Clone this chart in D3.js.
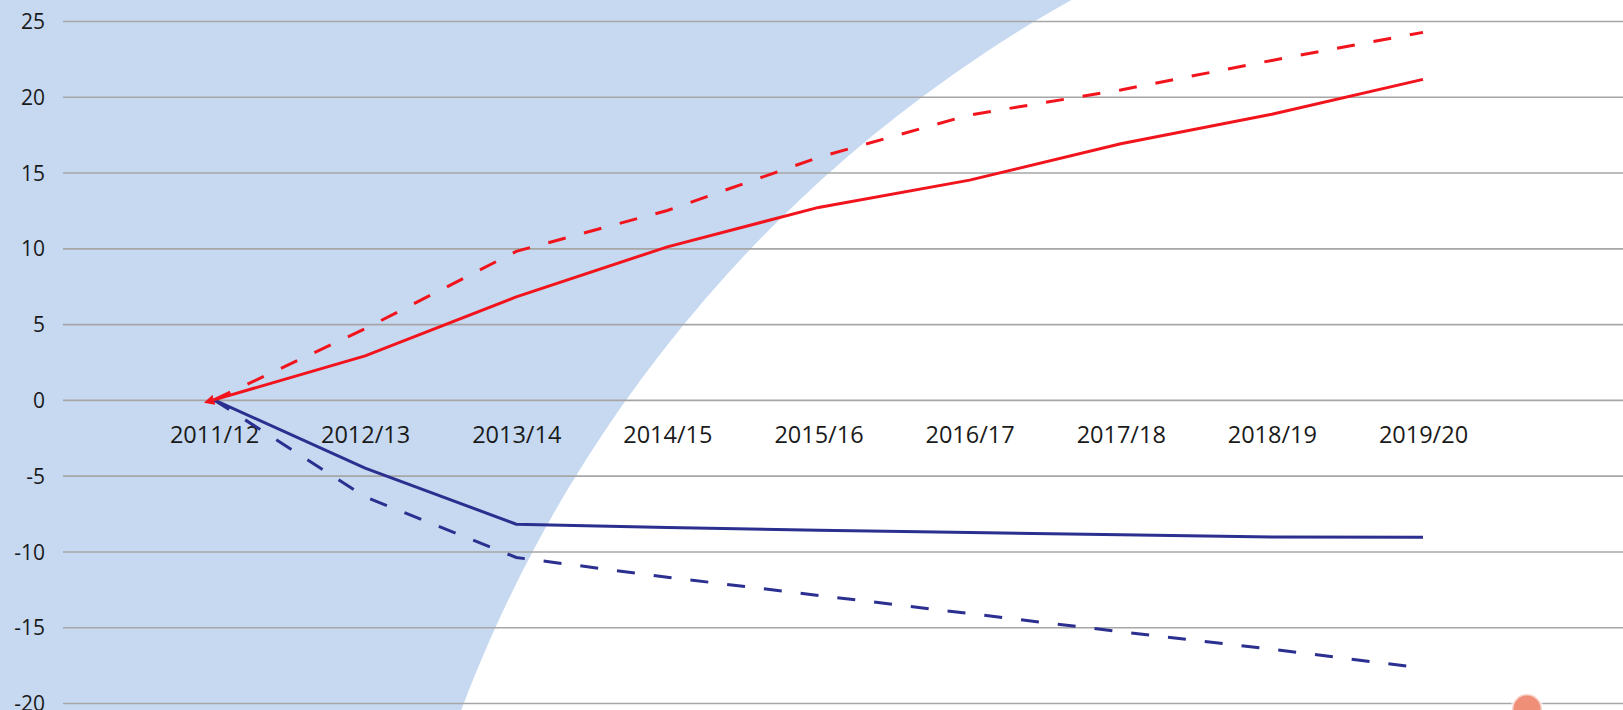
<!DOCTYPE html>
<html>
<head>
<meta charset="utf-8">
<script src="https://cdn.jsdelivr.net/npm/d3@7"></script>
<style>
  body { margin: 0; background: #fff; }
  text { font-family: "Open Sans", sans-serif; fill: #1a1a1a; }
</style>
</head>
<body>
<script>
// categories and series
var years = ["2011/12", "2012/13", "2013/14", "2014/15", "2015/16", "2016/17", "2017/18", "2018/19", "2019/20"];
var redSolid   = [0, 2.9, 6.8, 10.1, 12.7, 14.5, 16.9, 18.85, 21.15];
var redDashed  = [0, 4.7, 9.8, 12.5, 16.0, 18.8, 20.45, 22.4, 24.25];
var blueSolid  = [0, -4.5, -8.2, -8.42, -8.6, -8.75, -8.9, -9.05, -9.07];
var blueDashed = [0, -6.4, -10.4, -11.7, -12.9, -14.1, -15.3, -16.45, -17.7];
var yTicks = [25, 20, 15, 10, 5, 0, -5, -10, -15, -20];

var width = 1623,
    height = 710;

var svg = d3.select("body").append("svg")
    .attr("width", width)
    .attr("height", height)
    .style("display", "block");

var x = d3.scalePoint()
    .domain(years)
    .range([214, 1423]);

var y = d3.scaleLinear()
    .domain([-20, 25])
    .range([703, 21]);

// background: pale blue with a big white disc sweeping in from lower right
svg.append("rect")
    .attr("width", width)
    .attr("height", height)
    .attr("fill", "#c6d9f0");

svg.append("circle")
    .attr("cx", 1738)
    .attr("cy", 1190)
    .attr("r", 1364)
    .attr("fill", "#fff");

// gridlines + y labels (plain hyphen for negatives, like the original)
var yAxis = svg.append("g")
    .attr("transform", "translate(63,0)")
    .call(d3.axisLeft(y).tickValues(yTicks).tickSize(-(width - 63)).tickPadding(18)
      .tickFormat(function(d) { return String(d); }));

yAxis.select(".domain").remove();
yAxis.selectAll(".tick line")
    .attr("stroke", "#a6a6a6")
    .attr("stroke-width", 1.6);
yAxis.selectAll(".tick text")
    .style("font-size", "21px")
    .attr("fill", "#1a1a1a")
    .attr("dy", "0.36em");

// category labels sit just under the zero line
var xAxis = svg.append("g")
    .attr("transform", "translate(0," + y(0) + ")")
    .call(d3.axisBottom(x).tickSize(0).tickPadding(26));

xAxis.select(".domain").remove();
xAxis.selectAll(".tick text")
    .style("font-size", "23.5px")
    .attr("fill", "#1a1a1a");

// small arrowhead at the start of the red line
svg.append("defs").append("marker")
    .attr("id", "arrRed")
    .attr("viewBox", "0 0 10 10")
    .attr("refX", 0)
    .attr("refY", 5)
    .attr("markerWidth", 3.5)
    .attr("markerHeight", 3.5)
    .attr("orient", "auto-start-reverse")
  .append("path")
    .attr("d", "M0,0L10,5L0,10Z")
    .attr("fill", "#f2141c");

var line = d3.line()
    .x(function(d, i) { return x(years[i]); })
    .y(function(d) { return y(d); });

var series = [
  { values: redDashed,  color: "#f2141c", dash: "18,19", marker: null },
  { values: blueDashed, color: "#2b2f8f", dash: "18,19", marker: null },
  { values: blueSolid,  color: "#2b2f8f", dash: null,    marker: null },
  { values: redSolid,   color: "#f2141c", dash: null,    marker: "arrRed" }
];

svg.append("g")
    .selectAll("path")
    .data(series)
    .enter().append("path")
    .attr("d", function(d) { return line(d.values); })
    .attr("fill", "none")
    .attr("stroke", function(d) { return d.color; })
    .attr("stroke-width", 3)
    .attr("stroke-dasharray", function(d) { return d.dash; })
    .attr("marker-start", function(d) { return d.marker ? "url(#" + d.marker + ")" : null; });

// salmon dot peeking up from the bottom edge
svg.append("circle")
    .attr("cx", 1527)
    .attr("cy", 709)
    .attr("r", 15)
    .attr("fill", "#ef8f78")
    .attr("stroke", "#fff")
    .attr("stroke-opacity", 0.6)
    .attr("stroke-width", 3);
</script>
</body>
</html>
